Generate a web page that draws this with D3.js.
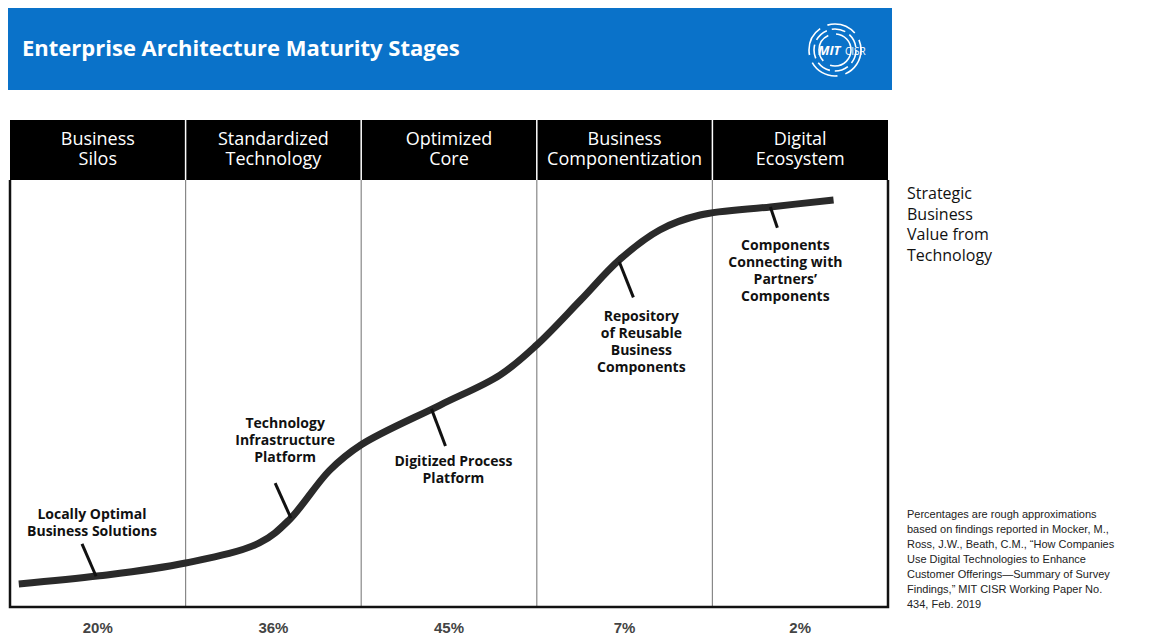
<!DOCTYPE html>
<html>
<head>
<meta charset="utf-8">
<script src="https://cdn.jsdelivr.net/npm/d3@7"></script>
<style>
  body { margin: 0; background: #fff; }
  text { font-family: "Open Sans", "Noto Sans", sans-serif; }
</style>
</head>
<body>
<svg id="chart" width="1161" height="640"></svg>
<script>
(function () {
const stages = [
  { name: ["Business", "Silos"], share: "20%" },
  { name: ["Standardized", "Technology"], share: "36%" },
  { name: ["Optimized", "Core"], share: "45%" },
  { name: ["Business", "Componentization"], share: "7%" },
  { name: ["Digital", "Ecosystem"], share: "2%" }
];

// curve: x in stage units, y as strategic value 0-100
const curve = [
  [0.05, 5.4], [0.51, 7.3], [1.0, 10.3], [1.42, 15], [1.59, 20.4],
  [1.82, 32], [2.0, 38], [2.45, 47.3], [2.79, 54.3], [3.0, 61.4],
  [3.25, 71.9], [3.47, 81.3], [3.7, 88.3], [3.93, 91.8], [4.33, 93.7], [4.69, 95.3]
];

// callouts: point on the curve, end of the pointer, label lines
const callouts = [
  { at: [0.49, 7.2], to: [0.41, 14.8], lines: ["Locally Optimal", "Business Solutions"], ly: 20.5 },
  { at: [1.6, 20.8], to: [1.51, 29], lines: ["Technology", "Infrastructure", "Platform"], ly: 42 },
  { at: [2.4, 46.4], to: [2.48, 37.7], lines: ["Digitized Process", "Platform"], ly: 33, below: true },
  { at: [3.47, 80.8], to: [3.55, 72.5], lines: ["Repository", "of Reusable", "Business", "Components"], ly: 67, below: true },
  { at: [4.33, 93.7], to: [4.37, 88.8], lines: ["Components", "Connecting with", "Partners’", "Components"], ly: 83.5, below: true }
];

const svg = d3.select("#chart");

// header band
svg.append("rect").attr("x", 8).attr("y", 8).attr("width", 884).attr("height", 82).attr("fill", "#0a72c9");
svg.append("text").attr("x", 22).attr("y", 56).attr("fill", "#fff")
  .style("font-size", "22px").style("font-weight", "bold").text("Enterprise Architecture Maturity Stages");

// logo
const logo = svg.append("g").attr("transform", "translate(835,50)");
[26, 21, 16].forEach((r, i) => {
  logo.append("circle").attr("r", r).attr("fill", "none").attr("stroke", "#fff")
    .attr("stroke-width", 1.6).attr("stroke-dasharray", i === 1 ? "14 5" : "30 8");
});
logo.append("text").attr("x", -17).attr("y", 5).attr("fill", "#fff").style("font-size", "13px")
  .style("font-weight", "bold").style("font-style", "italic").text("MIT");
logo.append("text").attr("x", 10).attr("y", 5).attr("fill", "#fff").style("font-size", "10px").text("CISR");

const plotLeft = 10, plotRight = 888, plotTop = 180, plotBottom = 607;
const x = d3.scaleLinear().domain([0, 5]).range([plotLeft, plotRight]);
const y = d3.scaleLinear().domain([0, 100]).range([plotBottom, plotTop]);

// stage header bar
svg.append("rect").attr("x", plotLeft).attr("y", 120).attr("width", plotRight - plotLeft)
  .attr("height", plotTop - 120).attr("fill", "#000");
stages.forEach((s, i) => {
  const t = svg.append("text").attr("x", x(i + 0.5)).attr("y", 145).attr("text-anchor", "middle")
    .attr("fill", "#fff").style("font-size", "18px");
  s.name.forEach((n, j) => t.append("tspan").attr("x", x(i + 0.5)).attr("dy", j ? 20 : 0).text(n));
  if (i > 0) {
    svg.append("line").attr("x1", x(i)).attr("x2", x(i)).attr("y1", plotTop).attr("y2", plotBottom)
      .attr("stroke", "#888").attr("stroke-width", 1.2);
    svg.append("line").attr("x1", x(i)).attr("x2", x(i)).attr("y1", 120).attr("y2", plotTop)
      .attr("stroke", "#fff").attr("stroke-width", 1.5);
  }
  svg.append("text").attr("x", x(i + 0.5)).attr("y", 633).attr("text-anchor", "middle")
    .attr("fill", "#444").style("font-size", "15px").style("font-weight", "bold")
    .style("font-family", "Liberation Sans, Arial, sans-serif").text(s.share);
});

// frame
svg.append("path").attr("d", `M${plotLeft},${plotTop}V${plotBottom}H${plotRight}V${plotTop}`)
  .attr("fill", "none").attr("stroke", "#111").attr("stroke-width", 2.5);

// curve
const line = d3.line().x(d => x(d[0])).y(d => y(d[1])).curve(d3.curveCatmullRom.alpha(0.5));
svg.append("path").datum(curve).attr("d", line).attr("fill", "none")
  .attr("stroke", "#2a2a2a").attr("stroke-width", 7);

// callouts
callouts.forEach(c => {
  svg.append("line").attr("x1", x(c.at[0])).attr("y1", y(c.at[1])).attr("x2", x(c.to[0])).attr("y2", y(c.to[1]))
    .attr("stroke", "#111").attr("stroke-width", 3);
  const cx = c.below ? x(c.to[0]) + 8 : x(c.to[0]) + 10;
  const t = svg.append("text").attr("text-anchor", "middle").attr("x", cx).attr("y", y(c.ly))
    .style("font-size", "14px").style("font-weight", "bold").attr("fill", "#111");
  c.lines.forEach((l, j) => t.append("tspan").attr("x", cx).attr("dy", j ? 17 : 0).text(l));
});

// right-side label
const side = svg.append("text").attr("x", 907).attr("y", 199).style("font-size", "16px").attr("fill", "#111");
["Strategic", "Business", "Value from", "Technology"].forEach((l, j) =>
  side.append("tspan").attr("x", 907).attr("dy", j ? 20.5 : 0).text(l));

// footnote
const note = svg.append("text").attr("x", 907).attr("y", 518).style("font-size", "11px")
  .style("font-family", "Liberation Sans Narrow, Liberation Sans, sans-serif").attr("fill", "#222");
["Percentages are rough approximations", "based on findings reported in Mocker, M.,",
 "Ross, J.W., Beath, C.M., “How Companies", "Use Digital Technologies to Enhance",
 "Customer Offerings—Summary of Survey", "Findings,” MIT CISR Working Paper No.",
 "434, Feb. 2019"].forEach((l, j) => note.append("tspan").attr("x", 907).attr("dy", j ? 15 : 0).text(l));
})();
</script>
</body>
</html>
